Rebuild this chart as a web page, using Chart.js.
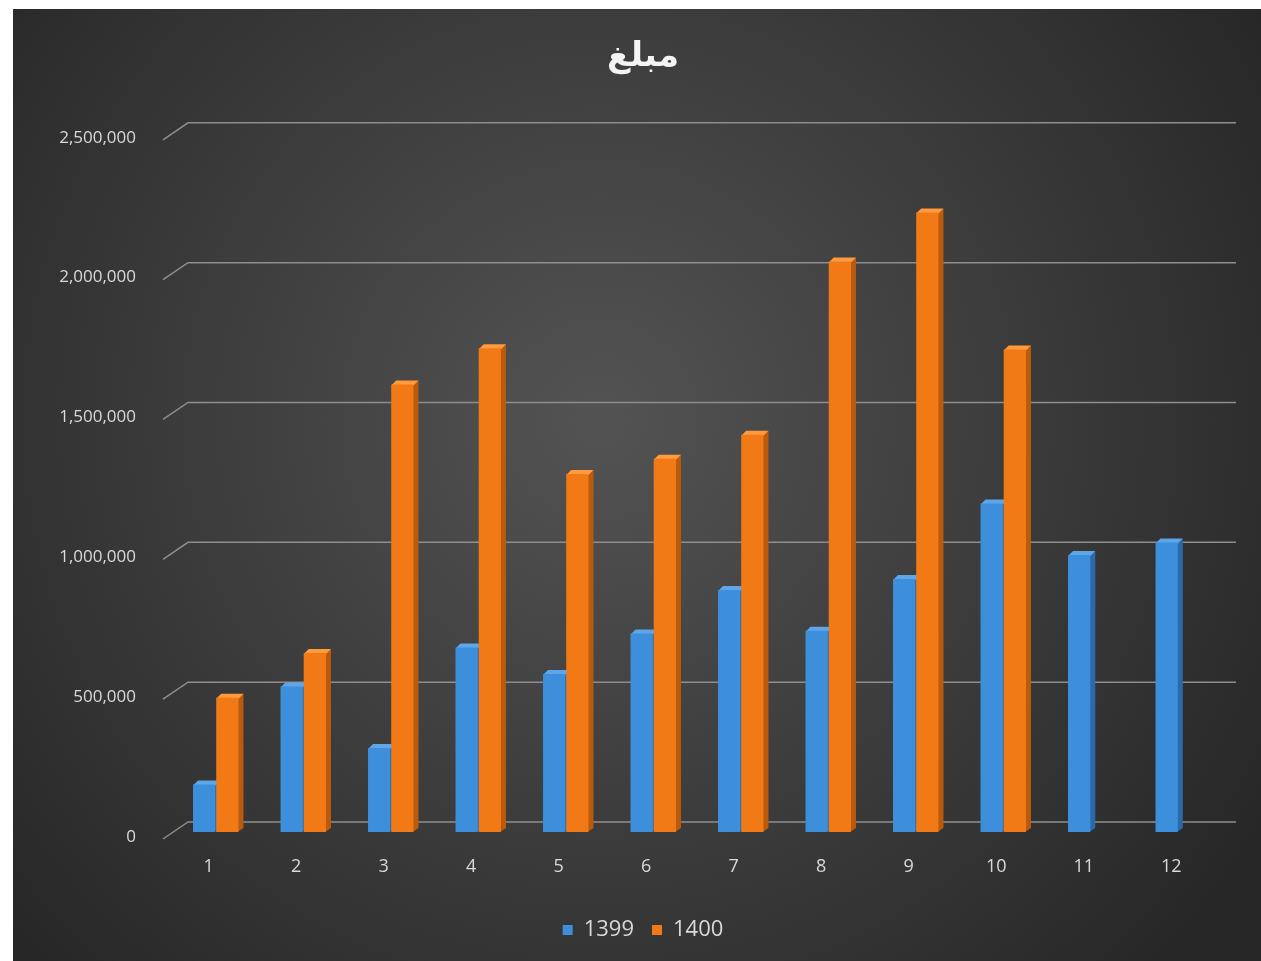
<!DOCTYPE html>
<html>
<head>
<meta charset="utf-8">
<script src="https://cdn.jsdelivr.net/npm/chart.js@4.4.1/dist/chart.umd.min.js"></script>
<style>
    html, body { margin: 0; padding: 0; background: #ffffff; }
    #wrap { width: 1261px; height: 961px; }
</style>
</head>
<body>
<div id="wrap"><canvas id="chart"></canvas></div>
<script>
// dati
const months = ["1", "2", "3", "4", "5", "6", "7", "8", "9", "10", "11", "12"];
const seriesNames = ["1399", "1400"];
const values1399 = [170000, 520000, 300000, 660000, 565000, 710000, 865000, 720000, 905000, 1175000, 990000, 1035000];
const values1400 = [480000, 640000, 1600000, 1730000, 1280000, 1335000, 1420000, 2040000, 2215000, 1725000, null, null];
const yTicks = [0, 500000, 1000000, 1500000, 2000000, 2500000];
const chartTitle = "مبلغ";

const BLUE = "#3d8fdc", BLUE_TOP = "#5fa6e8", BLUE_SIDE = "#2a6aa8";
const ORANGE = "#f27a16", ORANGE_TOP = "#ff9a3e", ORANGE_SIDE = "#b95a0c";

// sfondo scuro con gradiente
const bgPlugin = {
    id: "bg",
    beforeDraw(chart) {
        const c = chart.ctx;
        c.save();
        c.fillStyle = "#ffffff";
        c.fillRect(0, 0, chart.width, chart.height);
        const g = c.createRadialGradient(600, 420, 20, 600, 420, 780);
        g.addColorStop(0, "#525252");
        g.addColorStop(1, "#272727");
        c.fillStyle = g;
        c.fillRect(13, 9, chart.width - 13, chart.height - 9);
        c.restore();
    }
};

// griglia in prospettiva
const gridPlugin = {
    id: "grid3d",
    beforeDatasetsDraw(chart) {
        const c = chart.ctx;
        const y = chart.scales.y;
        c.save();
        c.strokeStyle = "#8e8e8e";
        c.lineWidth = 1.5;
        yTicks.forEach(v => {
            const py = y.getPixelForValue(v);
            c.beginPath();
            c.moveTo(163, py + 7);
            c.lineTo(188, py - 10);
            c.lineTo(1236, py - 10);
            c.stroke();
        });
        c.restore();
    }
};

// facce laterali e superiori (disegnate prima dei fronti, cosi' l'arancio copre il lato blu)
const faces = [[BLUE_TOP, BLUE_SIDE], [ORANGE_TOP, ORANGE_SIDE]];
const bar3dPlugin = {
    id: "bar3d",
    beforeDatasetsDraw(chart) {
        const c = chart.ctx;
        const dx = 5, dy = 4;
        c.save();
        chart.data.datasets.forEach((ds, i) => {
            const [topCol, sideCol] = faces[i];
            chart.getDatasetMeta(i).data.forEach((bar, j) => {
                if (ds.data[j] == null) return;
                const p = bar.getProps(["x", "y", "base", "width"], true);
                const l = p.x - p.width / 2, r = p.x + p.width / 2;
                c.fillStyle = sideCol;
                c.beginPath();
                c.moveTo(r - 1, p.y);
                c.lineTo(r + dx, p.y - dy);
                c.lineTo(r + dx, p.base - dy);
                c.lineTo(r - 1, p.base);
                c.closePath();
                c.fill();
                c.fillStyle = topCol;
                c.beginPath();
                c.moveTo(l, p.y + 1);
                c.lineTo(r, p.y + 1);
                c.lineTo(r + dx, p.y - dy);
                c.lineTo(l + dx, p.y - dy);
                c.closePath();
                c.fill();
            });
        });
        c.restore();
    }
};

const ctx = document.getElementById("chart").getContext("2d");

const chart = new Chart(ctx, {
    type: "bar",
    data: {
        labels: months,
        datasets: [
            {
                label: seriesNames[0],
                data: values1399,
                backgroundColor: BLUE
            },
            {
                label: seriesNames[1],
                data: values1400,
                backgroundColor: ORANGE
            }
        ]
    },
    options: {
        responsive: true,
        maintainAspectRatio: false,
        animation: false,
        devicePixelRatio: 1,
        layout: {
            padding: { left: 56, right: 31, top: 9, bottom: 10 }
        },
        datasets: {
            bar: {
                categoryPercentage: 0.53,
                barPercentage: 0.96
            }
        },
        plugins: {
            title: {
                display: true,
                text: chartTitle,
                color: "#f4f4f4",
                font: { family: "DejaVu Sans", size: 34, weight: "bold" },
                padding: { top: 28, bottom: 55 }
            },
            legend: {
                position: "bottom",
                labels: {
                    color: "#d9d9d9",
                    font: { family: "Open Sans", size: 22 },
                    boxWidth: 10,
                    boxHeight: 10,
                    padding: 18,
                    sort: (a, b) => a.datasetIndex - b.datasetIndex
                }
            },
            tooltip: { enabled: false }
        },
        scales: {
            x: {
                grid: { display: false, drawTicks: false },
                border: { display: false },
                ticks: {
                    color: "#d9d9d9",
                    font: { family: "Open Sans", size: 18 },
                    padding: 24,
                    labelOffset: -7
                },
                afterFit: s => { s.height = 69; }
            },
            y: {
                min: 0,
                max: 2500000,
                grid: { display: false, drawTicks: false },
                border: { display: false },
                ticks: {
                    stepSize: 500000,
                    color: "#d9d9d9",
                    font: { family: "Open Sans", size: 17 },
                    padding: 36,
                    labelOffset: 5,
                    callback: v => v.toLocaleString("en-US")
                },
                afterFit: s => { s.width = 116; }
            },
            // asse vuoto a destra, solo per lo spazio
            yRight: {
                position: "right",
                min: 0,
                max: 1,
                grid: { display: false, drawTicks: false },
                border: { display: false },
                ticks: { display: false },
                afterFit: s => { s.width = 8; }
            }
        }
    },
    plugins: [bgPlugin, gridPlugin, bar3dPlugin]
});
</script>
</body>
</html>
